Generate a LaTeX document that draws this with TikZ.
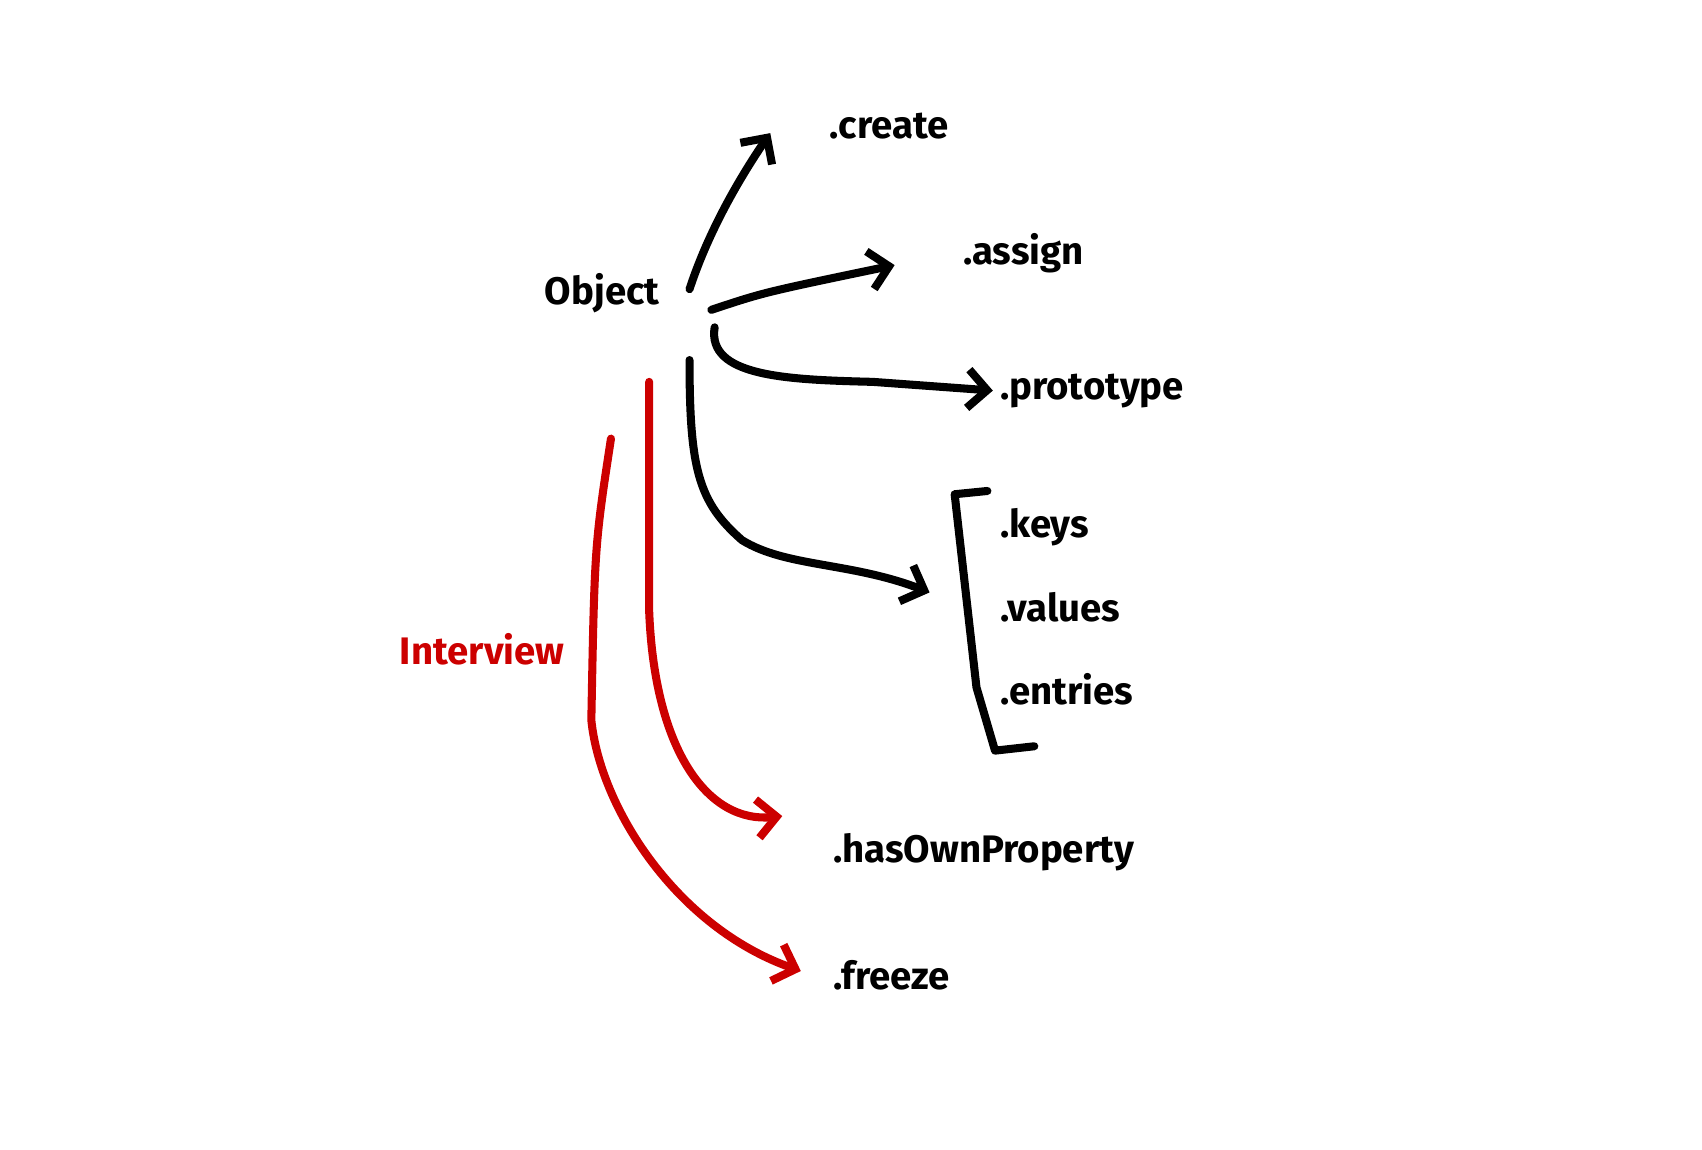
\documentclass[tikz,border=0pt]{standalone}
\usepackage{fontspec}
\setmainfont{Fira Sans}
\usetikzlibrary{arrows.meta}
\definecolor{inkred}{RGB}{204,0,0}

\begin{document}
\begin{tikzpicture}[x=0.01cm, y=-0.01cm, line width=2.1pt, line cap=round, line join=round]
    \tikzstyle{label} = [anchor=west, inner sep=0pt, font=\bfseries\fontsize{10}{12}\selectfont]
    \tikzstyle{tip} = [-{Straight Barb[length=5pt, width=10pt, line width=2.1pt]}]
    \useasboundingbox (0,0) rectangle (1560,1054);

    % Labels
    \node [label, anchor=center] (obj) at (552,269) {Object};
    \node [label, text=inkred, anchor=center] (interview) at (442,595) {Interview};
    \node [label] (create) at (757,116) {.create};
    \node [label] (assign) at (879,232) {.assign};
    \node [label] (proto) at (913,358) {.prototype};
    \node [label] (keys) at (913,483) {.keys};
    \node [label] (values) at (913,557) {.values};
    \node [label] (entries) at (913,632) {.entries};
    \node [label] (hasown) at (760,781) {.hasOwnProperty};
    \node [label] (freeze) at (760,894) {.freeze};

    % Arrow ends
    \coordinate (c1) at (632,265);
    \coordinate (c2) at (652,284);
    \coordinate (c3) at (655,300);
    \coordinate (c4) at (632,330);
    \coordinate (r1) at (595,350);
    \coordinate (r2) at (560,402);
    \coordinate (e1) at (706,122);
    \coordinate (e2) at (820,243);
    \coordinate (e3) at (910,358);
    \coordinate (e4) at (852,543);
    \coordinate (e5) at (717,748);
    \coordinate (e6) at (734,890);

    % Black arrows
    \draw [tip] (c1) .. controls (650,210) and (680,160) .. (e1);
    \draw [tip] (c2) .. controls (700,268) .. (e2);
    \draw [tip] (c3) .. controls (648,345) and (720,348) .. (800,350) -- (e3);
    \draw [tip] (c4) .. controls (632,430) and (640,460) .. (680,495) .. controls (720,520) and (780,515) .. (e4);

    % Bracket
    \draw (905,450) -- (875,453) -- (895,630) -- (912,688) -- (948,684);

    % Red arrows
    \draw [tip, inkred] (r1) -- (595,560) .. controls (600,690) and (650,755) .. (e5);
    \draw [tip, inkred] (r2) .. controls (545,500) .. (542,660) .. controls (550,740) and (620,850) .. (e6);
\end{tikzpicture}
\end{document}
